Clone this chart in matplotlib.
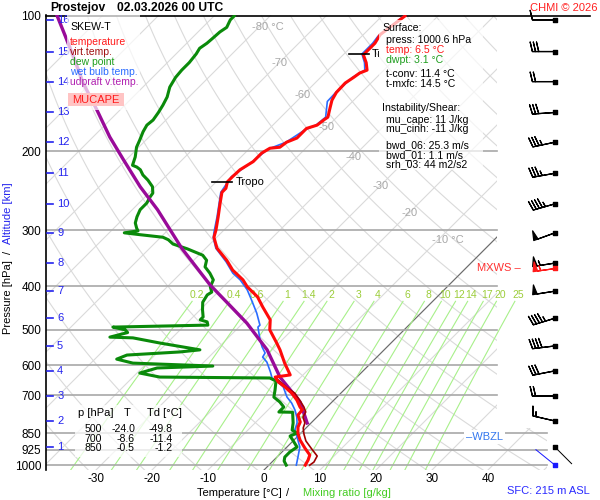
import numpy as np
import matplotlib
matplotlib.use('Agg')
import matplotlib.pyplot as plt
from matplotlib.patches import Rectangle, Polygon

plt.rcParams['font.family'] = ['Liberation Sans', 'DejaVu Sans']

# temperature profile [hPa], [degC]
temp_p = [100, 110, 115, 121, 122, 127, 132, 134, 137, 141, 148, 154, 160, 168, 170, 175,
          178, 187, 191, 196, 197, 202, 211, 220, 228, 234, 242, 247, 261, 280, 300, 311,
          329, 350, 368, 387, 401, 422, 445, 475, 500, 535, 554, 593, 630, 637, 653, 670,
          692, 717, 743, 754, 774, 802, 823, 850, 880, 917, 950, 975, 1000.6]
temp_t = [-55.9, -57.0, -56.4, -56.4, -56.4, -54.5, -53.0, -53.8, -54.1, -54.6, -54.5, -53.9,
          -52.9, -51.6, -51.8, -52.1, -53.4, -53.4, -54.5, -54.8, -56.4, -57.0, -57.0, -57.9,
          -58.0, -58.0, -57.1, -57.1, -55.5, -53.4, -51.4, -50.5, -48.0, -44.1, -41.3, -37.7,
          -35.7, -32.1, -29.3, -25.7, -24.0, -20.4, -18.6, -15.4, -12.3, -14.6, -13.2, -11.1,
          -8.75, -6.6, -4.8, -3.9, -3.75, -2.1, -1.6, -0.5, 1.1, 3.4, 5.5, 6.1, 6.5]

# dew point
dewp_p = [100, 102, 106, 108.5, 112, 115, 118, 121.5, 127, 132, 137, 144, 151.5, 158, 164,
          170.5, 175, 181, 189, 196, 206, 215, 217, 220, 226, 232, 240, 248, 253, 261, 270,
          280, 289, 297, 301, 304, 307, 311, 315, 322, 330, 341, 350, 362, 374, 387, 401,
          412, 418, 434, 451, 468, 475, 480, 488, 493, 500, 507, 519, 521, 535, 554, 560,
          569, 581, 593, 602, 608, 624, 637, 640, 650, 681, 706, 724, 743, 762, 763, 806,
          836, 849, 862, 880, 912, 935, 960, 980, 1000.6]
dewp_t = [-86.4, -86.4, -85.7, -86.1, -86.25, -86.4, -86.8, -86.4, -86.1, -86.1, -85.9, -85.2,
          -83.9, -83.2, -82.7, -82.3, -82.5, -82.0, -81.1, -80.4, -78.9, -77.9, -76.8, -75.7,
          -74.3, -72.5, -70.5, -69.3, -69.1, -68.6, -68.6, -67.9, -67.1, -65.9, -65.2, -67.3,
          -64.1, -59.6, -58.2, -56.6, -53.2, -49.3, -47.7, -46.8, -44.8, -43.0, -42.3, -41.1,
          -41.4, -40.9, -39.6, -38.2, -38.2, -36.6, -35.9, -52.5, -49.8, -48.9, -51.25, -47.0,
          -41.25, -32.9, -36.1, -45.0, -46.1, -42.5, -27.7, -37.3, -39.5, -35.2, -15.4, -13.75,
          -12.3, -11.25, -9.3, -7.7, -7.7, -5.2, -3.2, -2.1, -0.7, -1.4, -0.2, 1.8, 1.4, 1.4,
          2.0, 3.1]

# wet bulb temperature
wetb_p = [100.2, 111, 115, 121.5, 127, 132, 137, 148, 155, 168, 175, 179, 191, 198, 211, 228,
          247, 280, 303, 312, 329, 353, 374, 387, 407, 422, 436, 459, 488, 493, 527, 546, 563,
          575, 590, 620, 640, 650, 670, 706, 728, 754, 782, 806, 836, 866, 912, 960, 1000.6]
wetb_t = [-56.1, -57.1, -56.8, -56.8, -54.8, -53.4, -54.3, -54.6, -54.5, -52.0, -52.3, -53.4,
          -54.6, -56.6, -57.1, -58.2, -57.3, -53.6, -51.4, -50.5, -48.2, -43.9, -40.7, -38.2,
          -35.2, -33.4, -31.8, -29.3, -26.6, -26.6, -23.9, -22.3, -20.7, -20.4, -18.75, -16.4,
          -15.0, -13.6, -11.4, -8.9, -7.0, -5.2, -3.6, -2.5, -1.6, 0.0, 2.3, 3.75, 4.9]

# virtual temperature (lower part, where it separates from T)
virt_p = [640, 670, 692, 717, 743, 762, 782, 806, 827, 853, 884, 917, 955, 985, 1000.6]
virt_t = [-14.3, -10.9, -8.2, -6.1, -4.1, -2.9, -2.5, -1.1, -0.5, 0.7, 2.3, 4.5, 7.0, 7.5, 7.3]

# updraft virtual temperature (MU parcel)
parc_p = [100, 111, 123, 141, 162, 186, 209, 240, 270, 329, 397, 434, 483, 554, 637, 688, 724, 782, 806]
parc_t = [-118.0, -112.9, -107.9, -101.4, -94.1, -87.0, -80.5, -72.7, -65.5, -54.3, -42.7,
          -36.6, -29.3, -20.9, -13.75, -8.9, -5.7, -2.1, -0.7]

# altitude levels (km ASL) and wind at them
alt_km = list(range(1, 17))
alt_p = [912, 798, 702, 617, 543, 471, 410, 355, 304, 262, 224, 191, 164, 140, 120, 102]
wind_dir = [135, 283, 270, 259, 263, 253, 261, 261, 250, 254, 260, 258, 266, 270, 270, 270]
wind_spd = [3, 15, 20, 30, 40, 45, 50, 55, 50, 45, 35, 35, 30, 20, 30, 10]
sfc_p, sfc_dir, sfc_spd = 1000.6, 309, 3
mxws_p, mxws_dir, mxws_spd = 364, 262, 55
wbzl_p = 866
tropo_p = [234, 121.5]

mix_vals = [0.2, 0.4, 0.6, 1, 1.4, 2, 3, 4, 6, 8, 10, 12, 14, 17, 20, 25]
iso_lab_t = [-80, -70, -60, -50, -40, -30, -20, -10]
iso_lab_p = [105.8, 127, 150, 177, 206, 239, 274, 315]
p_ticks = [100, 200, 300, 400, 500, 600, 700, 850, 925, 1000]
t_ticks = [-30, -20, -10, 0, 10, 20, 30, 40]

tbl_rows = [('500', '-24.0', '-49.8'), ('700', '-8.6', '-11.4'), ('850', '-0.5', '-1.2')]
info_lines = [('Surface:', 'k', 0), ('press: 1000.6 hPa', 'k', 1), ('temp: 6.5 °C', '#ff1a1a', 1),
              ('dwpt: 3.1 °C', '#1e9e1e', 1), ('t-conv: 11.4 °C', 'k', 1), ('t-mxfc: 14.5 °C', 'k', 1),
              ('Instability/Shear:', 'k', 0), ('mu_cape: 11 J/kg', 'k', 1), ('mu_cinh: -11 J/kg', 'k', 1),
              ('bwd_06: 25.3 m/s', 'k', 1), ('bwd_01: 1.1 m/s', 'k', 1), ('srh_03: 44 m2/s2', 'k', 1)]
info_y = [28, 40, 50, 60, 74, 84, 108, 120, 129, 145, 155, 164]

# ---- skew-T geometry ----
P_BOT, P_TOP = 1025.9, 99.49
K = 80.18          # degC shift per decade of pressure
X_LEFT, X_RIGHT = -38.93, 60.0
X_EDGE, X_EDGE2, X_BARB = 41.6, 50.5, 51.96
X_BOX = 20.5       # left edge of the info box


def skew(t, p):
    return np.asarray(t, float) + K * np.log10(P_BOT / np.asarray(p, float))


def dewpt_from_mix(w, p):
    e = w * np.asarray(p, float) / (622.0 + w)
    a = np.log(e / 6.112)
    return 243.5 * a / (17.67 - a)


def fx(x):
    return x / 600.0


def fy(y):
    return 1 - y / 500.0


fig = plt.figure(figsize=(6, 5), dpi=100)
ax = fig.add_axes([46 / 600, 30 / 500, 554 / 600, 455 / 500])
ax.set_yscale('log')
ax.set_xlim(X_LEFT, X_RIGHT)
ax.set_ylim(P_BOT, P_TOP)

clip = Polygon([(X_LEFT, P_TOP), (X_EDGE, P_TOP), (X_EDGE, 827), (X_EDGE2, 827),
                (X_EDGE2, P_BOT), (X_LEFT, P_BOT)], closed=True, transform=ax.transData)

pp = np.logspace(np.log10(P_BOT), np.log10(P_TOP), 80)
for t in range(-130, 60, 10):
    ln, = ax.plot(skew(t, pp), pp, color='#dadada', lw=0.8, zorder=1)
    ln.set_clip_path(clip)
for th in range(220, 480, 10):
    tt = th * (pp / 1000.0) ** 0.2857 - 273.15
    ln, = ax.plot(skew(tt, pp), pp, color='#dadada', lw=0.8, zorder=1)
    ln.set_clip_path(clip)
ln, = ax.plot(skew(0, pp), pp, color='#6a6a6a', lw=0.8, zorder=2)
ln.set_clip_path(clip)

for t, p in zip(iso_lab_t, iso_lab_p):
    xs = skew(t, p)
    if t in (-80, -10):
        ax.text(xs - 1.2, p, '%d °C' % t, color='#a8a8a8', fontsize=8, ha='left', va='center', zorder=2)
    else:
        ax.text(xs, p, '%d' % t, color='#a8a8a8', fontsize=8, ha='center', va='center', zorder=2)

pm = np.logspace(np.log10(P_BOT), np.log10(432), 40)
for w in mix_vals:
    ax.plot(skew(dewpt_from_mix(w, pm), pm), pm, color='#a8f08a', lw=0.8, zorder=2)
    ax.text(skew(dewpt_from_mix(w, 418), 418), 418, '%g' % w, color='#9ccd3a',
            fontsize=7.5, ha='center', va='center', zorder=2)

for p in p_ticks[1:7]:
    ax.plot([X_LEFT, X_EDGE], [p, p], color='#a8a8a8', lw=1.2, zorder=2)
for p in p_ticks[7:]:
    ax.plot([X_LEFT, X_EDGE2], [p, p], color='#a8a8a8', lw=1.2, zorder=2)
ax.plot([X_LEFT, 58.2], [100, 100], color='k', lw=1.2, zorder=3, clip_on=False)

# profiles
ax.plot(skew(wetb_t, wetb_p), wetb_p, color='#2a6cff', lw=1.2, zorder=4)
ax.plot(skew(dewp_t, dewp_p), dewp_p, color='#0a8a0a', lw=2.2, zorder=5)
ax.plot(skew(parc_t, parc_p), parc_p, color='#990a99', lw=2.4, zorder=6)
ax.plot(skew(virt_t, virt_p), virt_p, color='#a00000', lw=1.2, zorder=6)
ax.plot(skew(temp_t, temp_p), temp_p, color='#ff0a0a', lw=2.2, zorder=7)

box_clip = Rectangle((X_LEFT, P_BOT), X_BOX - X_LEFT, P_TOP - P_BOT, transform=ax.transData)
for p in tropo_p:
    xs = skew(np.interp(p, temp_p, temp_t), p)
    ax.plot([xs - 2.7, xs + 0.9], [p, p], color='k', lw=1.2, zorder=8)
    tt = ax.text(xs + 1.4, p, 'Tropo', fontsize=8, ha='left', va='center', zorder=8)
    tt.set_clip_path(box_clip)
    tt.set_clip_on(True)

# altitude markers
ytr = ax.get_yaxis_transform()
for km, p in zip(alt_km, alt_p):
    ax.plot([0.002, 0.013], [p, p], color='#2424ee', lw=1.2, transform=ytr, zorder=8)
    ax.text(0.02, p, str(km), color='#2424ee', fontsize=8, ha='left', va='center',
            transform=ytr, zorder=8)

# wind
wd = np.radians(wind_dir)
ws = np.array(wind_spd, float)
ap = np.array(alt_p, float)
xb = np.full(len(ap), X_BARB)
big = ws >= 5
bsz = dict(spacing=0.14, height=0.42, width=0.2)
ax.barbs(xb[big], ap[big], -ws[big] * np.sin(wd[big]), -ws[big] * np.cos(wd[big]),
         length=5.7, lw=0.9, color='k', sizes=bsz, zorder=8, clip_on=False)
ax.quiver(xb[~big], ap[~big], np.sin(wd[~big]), np.cos(wd[~big]), angles='uv', pivot='tail',
          units='dots', scale_units='dots', scale=1 / 24.0, width=1.0, headwidth=0,
          headlength=0, headaxislength=0, color='k', zorder=8)
ax.scatter(xb, ap, marker='s', s=9, color='k', zorder=9, clip_on=False)

m = np.radians(mxws_dir)
ax.barbs([X_BARB], [mxws_p], [-mxws_spd * np.sin(m)], [-mxws_spd * np.cos(m)],
         length=5.7, lw=0.9, color='#ff1a1a', sizes=bsz, zorder=8, clip_on=False)
ax.scatter([X_BARB], [mxws_p], marker='s', s=9, color='#ff1a1a', zorder=9)
ax.text(45.8, mxws_p, 'MXWS –', color='#ff3030', fontsize=8, ha='right', va='center', zorder=9)

s = np.radians(sfc_dir)
ax.quiver([X_BARB], [sfc_p], [np.sin(s)], [np.cos(s)], angles='uv', pivot='tail',
          units='dots', scale_units='dots', scale=1 / 25.0, width=1.0, headwidth=0,
          headlength=0, headaxislength=0, color='#1a1aff', zorder=8)
ax.scatter([X_BARB], [sfc_p], marker='s', s=9, color='#1a1aff', zorder=9, clip_on=False)

ax.text(36.1, wbzl_p, '–WBZL', color='#3377ee', fontsize=8, ha='left', va='center', zorder=9,
        bbox=dict(facecolor='white', edgecolor='none', pad=1.5))

# axes cosmetics
ax.set_yticks(p_ticks)
ax.set_yticklabels([str(p) for p in p_ticks])
ax.yaxis.set_minor_locator(matplotlib.ticker.NullLocator())
ax.set_xticks(t_ticks)
ax.set_xticklabels([str(t) for t in t_ticks])
ax.tick_params(axis='y', length=0, pad=3.5, labelsize=8.5)
ax.tick_params(axis='x', length=0, pad=2.5, labelsize=8.5)
for sp in ('top', 'right', 'bottom'):
    ax.spines[sp].set_visible(False)
ax.spines['left'].set_linewidth(1.2)

# title and labels
fig.text(fx(50), fy(8), 'Prostejov', fontsize=8.7, fontweight='bold', va='center')
fig.text(fx(117), fy(8), '02.03.2026 00 UTC', fontsize=8.7, fontweight='bold', va='center')
fig.text(fx(597), fy(8), 'CHMI © 2026', fontsize=8, color='#ff2020', ha='right', va='center')
fig.text(fx(590), fy(491), 'SFC: 215 m ASL', fontsize=8, color='#2a2aff', ha='right', va='center')
fig.text(fx(8), fy(297), 'Pressure [hPa]', fontsize=8, rotation=90, ha='center', va='center')
fig.text(fx(8), fy(252), '/', fontsize=8, rotation=90, ha='center', va='center')
fig.text(fx(8), fy(213), 'Altitude [km]', fontsize=8, rotation=90, ha='center', va='center',
         color='#2424ee')
fig.text(fx(197), fy(493), 'Temperature [°C]', fontsize=8, va='center')
fig.text(fx(286), fy(493), '/', fontsize=8, va='center')
fig.text(fx(303), fy(493), 'Mixing ratio [g/kg]', fontsize=8, va='center', color='#44cc22')

# legend box
fig.add_artist(Rectangle((fx(67), fy(110)), 73 / 600, 95 / 500, transform=fig.transFigure,
                         facecolor='white', edgecolor='none', alpha=0.7, zorder=2))
fig.text(fx(70), fy(27), 'SKEW-T', fontsize=7.6, va='center')
leg = [('temperature', '#ff1a1a'), ('virt.temp.', '#a01010'), ('dew point', '#1e9e1e'),
       ('wet bulb temp.', '#2a6cff'), ('udpraft v.temp.', '#b020b0')]
for i, (name, col) in enumerate(leg):
    fig.text(fx(70), fy(42 + 10 * i), name, fontsize=7.5, color=col, va='center')
fig.add_artist(Rectangle((fx(68), fy(106)), 56 / 600, 13 / 500, transform=fig.transFigure,
                         facecolor='#ffc4c4', edgecolor='none', zorder=2))
fig.text(fx(96), fy(100), 'MUCAPE', fontsize=8, color='#ff1a1a', ha='center', va='center')

# info box
fig.add_artist(Rectangle((fx(379), fy(170)), 104 / 600, 150 / 500, transform=fig.transFigure,
                         facecolor='white', edgecolor='none', alpha=0.7, zorder=2))
for (txt, col, ind), y in zip(info_lines, info_y):
    fig.text(fx(382 + 4 * ind), fy(y), txt, fontsize=7.6, color=col, va='center')

# table
fig.add_artist(Rectangle((fx(75), fy(457)), 107 / 600, 52 / 500, transform=fig.transFigure,
                         facecolor='white', edgecolor='none', alpha=0.75, zorder=2))
fig.text(fx(78), fy(413), 'p [hPa]', fontsize=8, va='center')
fig.text(fx(127), fy(413), 'T', fontsize=8, va='center', ha='center')
fig.text(fx(147), fy(413), 'Td [°C]', fontsize=8, va='center')
for i, row in enumerate(tbl_rows):
    for txt, xr in zip(row, (102, 135, 173)):
        fig.text(fx(xr), fy(429 + 9.7 * i), txt, fontsize=7.6, va='center', ha='right')

fig.savefig('out.png', dpi=100)
